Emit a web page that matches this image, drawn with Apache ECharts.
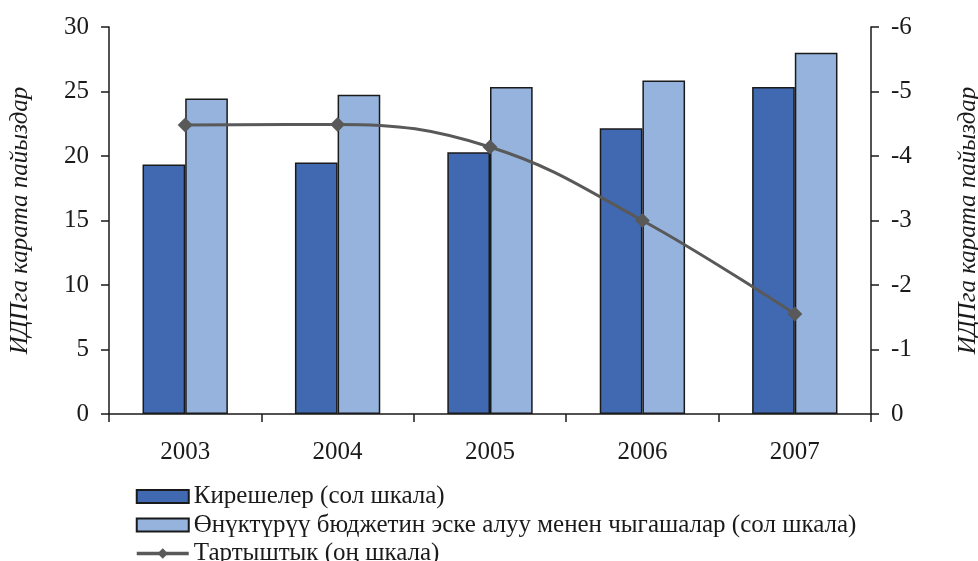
<!DOCTYPE html>
<html>
<head>
<meta charset="utf-8">
<script src="https://cdn.jsdelivr.net/npm/echarts@6/dist/echarts.min.js"></script>
<style>
  html, body { margin: 0; padding: 0; background: #fff; }
  #chart { width: 978px; height: 561px; }
</style>
</head>
<body>
<div id="chart"></div>
<script>
var years = ['2003', '2004', '2005', '2006', '2007'];
var revenues = [19.35, 19.5, 20.3, 22.15, 25.35];
var expenses = [24.45, 24.75, 25.35, 25.85, 28.0];
var deficit = [-4.48, -4.49, -4.14, -3.0, -1.55];
var leftTicks = [0, 30, 5];
var rightTicks = [-6, 0, 1];

var serif = '"Liberation Serif", "DejaVu Serif", serif';
var titleText = 'ИДПга карата пайыздар';
var names = [
  'Кирешелер (сол шкала)',
  'Өнүктүрүү бюджетин эске алуу менен чыгашалар (сол шкала)',
  'Тартыштык (оң шкала)'
];

var myChart = echarts.init(document.getElementById('chart'));

var axisBase = {
  axisLine: {show: true, lineStyle: {color: '#1a1a1a', width: 1.5}},
  axisTick: {show: true, inside: false, length: 8, lineStyle: {color: '#1a1a1a', width: 1.5}},
  splitLine: {show: false},
  axisLabel: {color: '#1a1a1a', fontFamily: serif, fontSize: 25, margin: 20},
  nameLocation: 'middle',
  nameTextStyle: {color: '#1a1a1a', fontFamily: serif, fontSize: 25, fontStyle: 'italic'}
};

var option = {
  animation: false,
  backgroundColor: '#fff',
  grid: {left: 109, right: 107, top: 27, bottom: 147, outerBoundsMode: 'none', containLabel: false},
  legend: {
    orient: 'vertical',
    left: 130,
    top: 479,
    height: 120,
    itemWidth: 52,
    itemHeight: 13,
    itemGap: 3.5,
    textStyle: {color: '#1a1a1a', fontFamily: serif, fontSize: 25, lineHeight: 25},
    data: [
      {name: names[0], icon: 'rect'},
      {name: names[1], icon: 'rect'},
      {name: names[2], lineStyle: {color: '#595959', width: 3.5}, itemStyle: {color: '#595959'}}
    ]
  },
  xAxis: {
    type: 'category',
    data: years,
    axisLine: {show: true, lineStyle: {color: '#1a1a1a', width: 1.5}},
    axisTick: {show: true, length: 8, alignWithLabel: false, lineStyle: {color: '#1a1a1a', width: 1.5}},
    axisLabel: {color: '#1a1a1a', fontFamily: serif, fontSize: 25, margin: 26}
  },
  yAxis: [
    Object.assign({}, axisBase, {
      type: 'value',
      position: 'left',
      min: leftTicks[0],
      max: leftTicks[1],
      interval: leftTicks[2],
      name: titleText,
      nameGap: 76
    }),
    Object.assign({}, axisBase, {
      type: 'value',
      position: 'right',
      inverse: true,
      min: rightTicks[0],
      max: rightTicks[1],
      interval: rightTicks[2],
      name: titleText,
      nameGap: 85,
      nameRotate: 90
    })
  ],
  series: [
    {
      name: names[0],
      type: 'bar',
      data: revenues,
      barGap: '0%',
      barCategoryGap: '44%',
      itemStyle: {color: '#4169B1', borderColor: '#1a1a1a', borderWidth: 1.5}
    },
    {
      name: names[1],
      type: 'bar',
      data: expenses,
      barGap: '0%',
      barCategoryGap: '44%',
      itemStyle: {color: '#95B3DC', borderColor: '#1a1a1a', borderWidth: 1.5}
    },
    {
      name: names[2],
      type: 'line',
      yAxisIndex: 1,
      data: deficit,
      smooth: 0.4,
      symbol: 'diamond',
      symbolSize: 15,
      lineStyle: {color: '#595959', width: 3},
      itemStyle: {color: '#595959'},
      z: 5
    }
  ]
};

myChart.setOption(option);
</script>
</body>
</html>
